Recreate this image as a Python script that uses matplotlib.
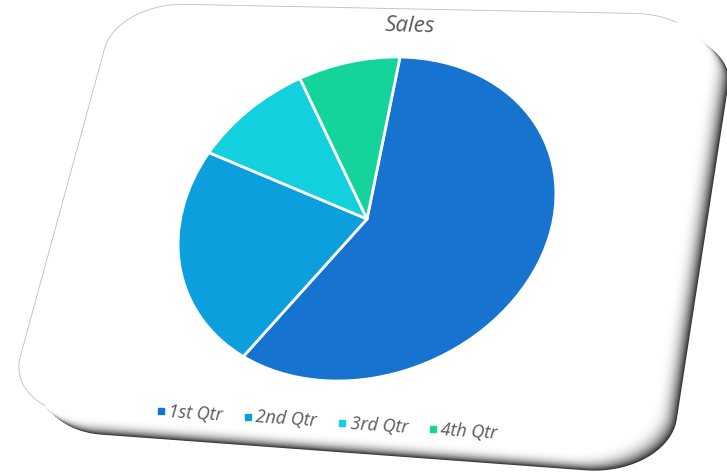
import numpy as np
import matplotlib.pyplot as plt
from matplotlib.patches import Polygon
from matplotlib.transforms import Affine2D

plt.rcParams.update({
    'font.family': ['Open Sans', 'DejaVu Sans'],
})

# data
categories = ['1st Qtr', '2nd Qtr', '3rd Qtr', '4th Qtr']
sales = [8.2, 3.2, 1.4, 1.2]
colors = ['#1674d0', '#0ba0dd', '#12d0de', '#14d49c']
title = 'Sales'

W, H = 727, 475


def homography(src, dst):
    # 4 point projective map, unit square -> tilted card
    A, b = [], []
    for (u, v), (x, y) in zip(src, dst):
        A.append([u, v, 1, 0, 0, 0, -u * x, -v * x]); b.append(x)
        A.append([0, 0, 0, u, v, 1, -u * y, -v * y]); b.append(y)
    h = np.linalg.solve(np.array(A, float), np.array(b, float))
    return np.append(h, 1).reshape(3, 3)


def rounded_unit_rect(r=0.12, n=20):
    t = np.linspace(0, np.pi / 2, n)
    c, s = np.cos(t), np.sin(t)
    pts = np.concatenate([
        np.c_[r - r * c, r - r * s],
        np.c_[1 - r + r * s, r - r * c],
        np.c_[1 - r + r * c, 1 - r + r * s],
        np.c_[r - r * s, 1 - r + r * c],
    ])
    return pts


def warp(pts, Hm):
    p = np.c_[pts, np.ones(len(pts))] @ Hm.T
    return p[:, :2] / p[:, 2:3]


fig = plt.figure(figsize=(W / 100, H / 100), dpi=100)
ax = fig.add_axes([0, 0, 1, 1])

# tilted card with bevel on the right / bottom
quad = [(117, 3), (712, 15), (644, 456), (6, 409)]
Hm = homography([(0, 0), (1, 0), (1, 1), (0, 1)], quad)
card = warp(rounded_unit_rect(), Hm)

N = 24
for k in range(N, 0, -1):
    g = 1 - 0.78 * (k / N) ** 3
    ax.add_patch(Polygon(card + np.array([1.0 * k, 0.85 * k]), closed=True,
                         facecolor=(g, g, g), edgecolor='none', zorder=1))
ax.add_patch(Polygon(card, closed=True, facecolor='white', edgecolor='none', zorder=2))
# faint rim on the top / left
rim = np.r_[card[66:80], card[:28]]
ax.plot(rim[:, 0], rim[:, 1], color='#bdbdbd', linewidth=0.6, zorder=2)

# pie, skewed into the card's perspective
wedges, _ = ax.pie(sales, colors=colors, startangle=90, counterclock=False,
                   wedgeprops=dict(edgecolor='white', linewidth=2))
skew = Affine2D(np.array([[186, 33, 367], [3, -162, 219], [0, 0, 1]], float))
for w in wedges:
    w.set_transform(skew + ax.transData)
    w.set_zorder(5)

ax.set_xlim(0, W)
ax.set_ylim(H, 0)
ax.set_aspect('auto')
ax.axis('off')

ax.text(410, 26, title, fontsize=16, style='italic', color='#595959',
        ha='center', va='center', rotation=-1.5, rotation_mode='anchor', zorder=6)

# legend along a slanted baseline
ang = np.deg2rad(3.8)
d = np.array([np.cos(ang), np.sin(ang)])
pos = np.array([161.0, 411.0])
renderer = fig.canvas.get_renderer()
for lab, col in zip(categories, colors):
    ax.plot(pos[0], pos[1], marker='s', markersize=4.5, color=col,
            linestyle='none', zorder=6)
    tp = pos + 8 * d
    t = ax.text(tp[0], tp[1], lab, fontsize=13, style='italic', color='#595959',
                ha='left', va='center', rotation=-3.8, rotation_mode='anchor', zorder=6)
    wdt = t.get_window_extent(renderer).width
    pos = tp + (wdt + 24) * d

fig.savefig('out.png', dpi=100, facecolor='white')
